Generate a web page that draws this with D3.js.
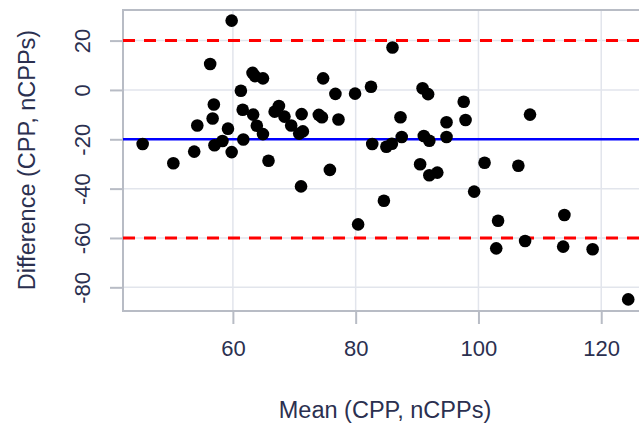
<!DOCTYPE html>
<html>
<head>
<meta charset="utf-8">
<script src="https://cdn.jsdelivr.net/npm/d3@7"></script>
<style>
  body { margin: 0; background: #fff; }
  svg { display: block; }
  text { font-family: "Liberation Sans", Arial, sans-serif; fill: #2b3050; }
</style>
</head>
<body>
<svg id="chart" width="639" height="423"></svg>
<script>
// mean of the two methods
var meanVals = [45.3, 50.3, 53.7, 54.2, 56.3, 56.9, 56.7, 57.0, 58.3, 59.2, 59.8, 59.8,
  61.3, 61.6, 61.7, 63.2, 63.6, 64.9, 63.3, 63.9, 64.9, 65.8, 66.8, 67.5, 68.4, 69.5,
  70.8, 71.4, 71.2, 71.1, 74.0, 74.5, 74.7, 76.7, 77.2, 75.8, 79.9, 82.5, 86.0, 82.7,
  85.0, 85.9, 87.3, 87.5, 90.9, 91.8, 91.1, 92.0, 90.5, 92.0, 93.3, 94.8, 94.8, 97.6,
  97.9, 101.0, 99.3, 106.5, 108.4, 80.4, 84.6, 103.2, 102.9, 107.6, 114.0, 113.8,
  118.6, 124.4];
// difference of the two methods
var diffVals = [-21.9, -29.7, -25.0, -14.4, 10.5, -5.9, -11.6, -22.4, -20.7, -15.7, 28.1, -25.2,
  -0.3, -8.0, -20.1, 6.9, 5.6, 4.7, -10.0, -14.5, -17.9, -28.7, -8.8, -6.5, -10.8, -14.4,
  -17.7, -16.8, -9.8, -39.1, -10.1, -11.1, 4.7, -1.6, -12.0, -32.4, -1.5, 1.3, 17.2, -21.9,
  -23.0, -21.8, -11.1, -19.1, 0.7, -1.7, -18.7, -20.6, -30.1, -34.6, -33.5, -19.1, -13.1, -4.8,
  -12.2, -29.5, -41.2, -30.7, -10.0, -54.5, -44.9, -53.0, -64.2, -61.2, -50.7, -63.5,
  -64.6, -84.9];
var biasLine = -20.0;
var limitLines = [20.0, -60.0];
var xTicks = [60, 80, 100, 120];
var yTicks = [20, 0, -20, -40, -60, -80];

var data = meanVals.map(function(m, i) { return {mean: m, diff: diffVals[i]}; });

var margin = {top: 10, left: 123, bottom: 311, right: 662};

var x = d3.scaleLinear().domain([42.1, 129.9]).range([margin.left, margin.right]);
var y = d3.scaleLinear().domain([-89.6, 32.4]).range([margin.bottom, margin.top]);

var svg = d3.select("#chart");

// grid
svg.append("g").selectAll("line").data(xTicks).enter().append("line")
  .attr("x1", d => x(d)).attr("x2", d => x(d))
  .attr("y1", margin.top).attr("y2", margin.bottom)
  .attr("stroke", "#e2e5ec").attr("stroke-width", 1.5);
svg.append("g").selectAll("line").data(yTicks).enter().append("line")
  .attr("x1", margin.left).attr("x2", margin.right)
  .attr("y1", d => y(d)).attr("y2", d => y(d))
  .attr("stroke", "#e2e5ec").attr("stroke-width", 1.5);

// frame
svg.append("rect")
  .attr("x", margin.left).attr("y", margin.top)
  .attr("width", margin.right - margin.left).attr("height", margin.bottom - margin.top)
  .attr("fill", "none").attr("stroke", "#b8bcc5").attr("stroke-width", 2);

// axes (plain hyphen for negatives)
var xAxis = g => g
  .attr("transform", "translate(0," + margin.bottom + ")")
  .call(d3.axisBottom(x).tickValues(xTicks).tickSize(13).tickPadding(16).tickFormat(d => String(d)))
  .call(g => g.select(".domain").remove());
var yAxis = g => g
  .attr("transform", "translate(" + margin.left + ",0)")
  .call(d3.axisLeft(y).tickValues(yTicks).tickSize(13).tickFormat(d => String(d)))
  .call(g => g.select(".domain").remove());

var gx = svg.append("g").call(xAxis);
var gy = svg.append("g").call(yAxis);

svg.selectAll(".tick line").attr("stroke", "#b8bcc5").attr("stroke-width", 2);
svg.selectAll(".tick text").style("font-size", "22px").attr("fill", "#2b3050");

// y tick labels read bottom to top
gy.selectAll(".tick text")
  .attr("x", null).attr("dy", "0.35em")
  .attr("text-anchor", "middle")
  .attr("transform", "translate(-41,0) rotate(-90)");

// bias and limits of agreement
svg.append("line")
  .attr("x1", margin.left).attr("x2", margin.right)
  .attr("y1", y(biasLine)).attr("y2", y(biasLine))
  .attr("stroke", "#0000ff").attr("stroke-width", 2.5);
svg.append("g").selectAll("line").data(limitLines).enter().append("line")
  .attr("x1", margin.left).attr("x2", margin.right)
  .attr("y1", d => y(d)).attr("y2", d => y(d))
  .attr("stroke", "#ff0000").attr("stroke-width", 3)
  .attr("stroke-dasharray", "12,9");

// points
svg.append("g").selectAll("circle").data(data).enter().append("circle")
  .attr("cx", d => x(d.mean))
  .attr("cy", d => y(d.diff))
  .attr("r", 6.3)
  .attr("fill", "#000");

// titles
svg.append("text")
  .attr("x", 385).attr("y", 418)
  .attr("text-anchor", "middle")
  .style("font-size", "23.5px")
  .text("Mean (CPP, nCPPs)");
svg.append("text")
  .attr("transform", "translate(35,160) rotate(-90)")
  .attr("text-anchor", "middle")
  .style("font-size", "23.5px")
  .text("Difference (CPP, nCPPs)");
</script>
</body>
</html>
